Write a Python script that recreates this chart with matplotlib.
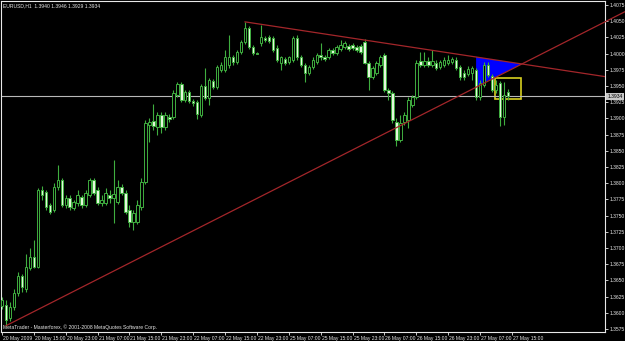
#!/usr/bin/env python3
"""EURUSD H1 candlestick chart in MetaTrader 'green on black' style."""

import matplotlib
matplotlib.use('Agg')
import matplotlib.pyplot as plt
import matplotlib.transforms as mtrans
from matplotlib import font_manager
from matplotlib.patches import Polygon, Rectangle

# --- data (prices) ---------------------------------------------------------
OPEN = [
    1.3611, 1.3612, 1.3592, 1.3609, 1.3631, 1.3656, 1.3636, 1.3669, 1.3686, 1.3671,
    1.3790, 1.3787, 1.3767, 1.3759, 1.3794, 1.3805, 1.3767, 1.3777, 1.3762, 1.3770,
    1.3779, 1.3767, 1.3782, 1.3805, 1.3790, 1.3770, 1.3770, 1.3782, 1.3777, 1.3771,
    1.3794, 1.3785, 1.3759, 1.3740, 1.3740, 1.3764, 1.3802, 1.3890, 1.3896, 1.3887,
    1.3906, 1.3887, 1.3902, 1.3902, 1.3936, 1.3953, 1.3929, 1.3941, 1.3927, 1.3926,
    1.3906, 1.3950, 1.3932, 1.3958, 1.3949, 1.3975, 1.3975, 1.3983, 1.3995, 1.3987,
    1.4003, 1.4018, 1.4040, 1.4010, 1.4001, 1.4017, 1.4024, 1.4026, 1.4024, 1.4009,
    1.3986, 1.3992, 1.3987, 1.3990, 1.4024, 1.3995, 1.3983, 1.3970, 1.3980, 1.3987,
    1.3998, 1.3995, 1.3995, 1.4006, 1.4001, 1.4007, 1.4010, 1.4012, 1.4014, 1.4010,
    1.4012, 1.4018, 1.3986, 1.3964, 1.3970, 1.3983, 1.3998, 1.3944, 1.3939, 1.3895,
    1.3867, 1.3895, 1.3898, 1.3921, 1.3933, 1.3989, 1.3983, 1.3989, 1.3983, 1.3986,
    1.3980, 1.3983, 1.3986, 1.3987, 1.3990, 1.3980, 1.3970, 1.3969, 1.3970, 1.3975,
    1.3933, 1.3952, 1.3983, 1.3966, 1.3944, 1.3955, 1.3902, 1.3940,
]
HIGH = [
    1.3625, 1.3619, 1.3617, 1.3636, 1.3663, 1.3660, 1.3690, 1.3700, 1.3713, 1.3793,
    1.3796, 1.3790, 1.3770, 1.3801, 1.3828, 1.3808, 1.3781, 1.3781, 1.3774, 1.3790,
    1.3782, 1.3790, 1.3808, 1.3808, 1.3794, 1.3782, 1.3793, 1.3790, 1.3836, 1.3805,
    1.3798, 1.3790, 1.3767, 1.3759, 1.3774, 1.3808, 1.3898, 1.3901, 1.3922, 1.3910,
    1.3910, 1.3910, 1.3907, 1.3944, 1.3956, 1.3956, 1.3944, 1.3944, 1.3930, 1.3929,
    1.3953, 1.3978, 1.3963, 1.3961, 1.3983, 1.3987, 1.4006, 1.4029, 1.3998, 1.4006,
    1.4021, 1.4049, 1.4043, 1.4014, 1.4003, 1.4044, 1.4027, 1.4029, 1.4027, 1.4014,
    1.3997, 1.3995, 1.3997, 1.4027, 1.4029, 1.3998, 1.3986, 1.3983, 1.3994, 1.4001,
    1.4017, 1.3998, 1.4009, 1.4009, 1.4014, 1.4021, 1.4020, 1.4015, 1.4017, 1.4014,
    1.4015, 1.4023, 1.3989, 1.3981, 1.3989, 1.3998, 1.4001, 1.3947, 1.3943, 1.3901,
    1.3906, 1.3910, 1.3933, 1.3936, 1.3990, 1.4003, 1.4003, 1.3994, 1.4006, 1.3990,
    1.3990, 1.3994, 1.3998, 1.3995, 1.3995, 1.3983, 1.3975, 1.3981, 1.3981, 1.3978,
    1.3960, 1.3987, 1.3987, 1.3969, 1.3960, 1.3958, 1.3956, 1.3946,
]
LOW = [
    1.3606, 1.3580, 1.3588, 1.3605, 1.3626, 1.3632, 1.3632, 1.3666, 1.3669, 1.3669,
    1.3774, 1.3759, 1.3753, 1.3756, 1.3790, 1.3764, 1.3762, 1.3759, 1.3759, 1.3765,
    1.3762, 1.3764, 1.3779, 1.3782, 1.3767, 1.3765, 1.3767, 1.3770, 1.3739, 1.3768,
    1.3781, 1.3753, 1.3733, 1.3728, 1.3737, 1.3759, 1.3799, 1.3864, 1.3882, 1.3875,
    1.3878, 1.3882, 1.3895, 1.3899, 1.3933, 1.3926, 1.3926, 1.3924, 1.3919, 1.3899,
    1.3902, 1.3929, 1.3921, 1.3946, 1.3946, 1.3972, 1.3972, 1.3978, 1.3983, 1.3984,
    1.4000, 1.4015, 1.4007, 1.3998, 1.4000, 1.4012, 1.4018, 1.4017, 1.4003, 1.3987,
    1.3975, 1.3983, 1.3984, 1.3987, 1.3990, 1.3980, 1.3956, 1.3967, 1.3977, 1.3984,
    1.3990, 1.3989, 1.3992, 1.3998, 1.3998, 1.4004, 1.4007, 1.4004, 1.4006, 1.4003,
    1.4000, 1.3984, 1.3944, 1.3961, 1.3967, 1.3980, 1.3941, 1.3929, 1.3893, 1.3858,
    1.3864, 1.3890, 1.3885, 1.3918, 1.3930, 1.3980, 1.3980, 1.3980, 1.3980, 1.3975,
    1.3977, 1.3980, 1.3983, 1.3984, 1.3975, 1.3960, 1.3960, 1.3966, 1.3960, 1.3929,
    1.3929, 1.3949, 1.3964, 1.3941, 1.3939, 1.3889, 1.3890, 1.3929,
]
CLOSE = [
    1.3619, 1.3589, 1.3609, 1.3631, 1.3656, 1.3639, 1.3671, 1.3686, 1.3671, 1.3790,
    1.3782, 1.3764, 1.3756, 1.3794, 1.3805, 1.3767, 1.3777, 1.3764, 1.3771, 1.3782,
    1.3767, 1.3785, 1.3805, 1.3785, 1.3770, 1.3774, 1.3785, 1.3777, 1.3784, 1.3794,
    1.3785, 1.3756, 1.3740, 1.3754, 1.3767, 1.3802, 1.3893, 1.3895, 1.3889, 1.3906,
    1.3887, 1.3906, 1.3899, 1.3939, 1.3953, 1.3929, 1.3941, 1.3927, 1.3924, 1.3907,
    1.3950, 1.3932, 1.3960, 1.3949, 1.3980, 1.3983, 1.3995, 1.3995, 1.3987, 1.4003,
    1.4018, 1.4040, 1.4010, 1.4001, 1.4000, 1.4026, 1.4021, 1.4020, 1.4006, 1.3990,
    1.3994, 1.3986, 1.3994, 1.4024, 1.3994, 1.3983, 1.3970, 1.3980, 1.3990, 1.3998,
    1.3994, 1.3992, 1.4006, 1.4001, 1.4010, 1.4014, 1.4017, 1.4007, 1.4009, 1.4006,
    1.4003, 1.3986, 1.3964, 1.3978, 1.3986, 1.3995, 1.3944, 1.3939, 1.3898, 1.3867,
    1.3893, 1.3906, 1.3929, 1.3933, 1.3986, 1.3983, 1.3989, 1.3983, 1.3989, 1.3978,
    1.3987, 1.3990, 1.3990, 1.3992, 1.3978, 1.3964, 1.3964, 1.3977, 1.3978, 1.3933,
    1.3955, 1.3983, 1.3967, 1.3944, 1.3952, 1.3902, 1.3936, 1.3934,
]

TIME_TICKS = [0, 8, 16, 24, 32, 40, 48, 56, 64, 72, 80, 88, 96, 104, 112, 120, 128]
TIME_LABELS = [
    '20 May 2009', '20 May 15:00', '20 May 23:00', '21 May 07:00', '21 May 15:00',
    '21 May 23:00', '22 May 07:00', '22 May 15:00', '22 May 23:00', '25 May 07:00',
    '25 May 15:00', '25 May 23:00', '26 May 07:00', '26 May 15:00', '26 May 23:00',
    '27 May 07:00', '27 May 15:00',
]
PRICE_TICKS = [
    1.3575, 1.3600, 1.3625, 1.3650, 1.3675, 1.3700, 1.3725, 1.3750, 1.3775, 1.3800,
    1.3825, 1.3850, 1.3875, 1.3900, 1.3925, 1.3950, 1.3975, 1.4000, 1.4025, 1.4050,
    1.4075,
]
BID = 1.3934

# drawn objects (bar index, price)
TOP_LINE = [(61, 1.4049), (130.5, 1.3984)]
RISE_LINE = [(1, 1.3580), (130.5, 1.3984)]
TRIANGLE = [(119, 1.3995), (119, 1.3949), (130.5, 1.3984)]
BOX = [(123.7, 1.3962), (130.3, 1.3930)]

TITLE = 'EURUSD,H1  1.3940 1.3946 1.3929 1.3934'
FOOTER = 'MetaTrader - Masterforex, \u00a9 2001-2008 MetaQuotes Software Corp.'

# --- style ------------------------------------------------------------------
installed = {f.name for f in font_manager.fontManager.ttflist}
if 'Liberation Sans Narrow' in installed:
    FONT, FS = 'Liberation Sans Narrow', 4.0
else:
    FONT, FS = 'Liberation Sans', 3.6
plt.rcParams['font.family'] = [FONT, 'DejaVu Sans']

BG = 'black'
FG = '#e8e8e8'
CANDLE = '#3fae3f'
BEAR_FILL = '#e4f7dc'
LINE_RED = '#a3262a'

W, H = 625, 341
X0, X1, Y0, Y1 = 1, 605, 1, 332  # plot frame in pixels

fig = plt.figure(figsize=(W / 100, H / 100), dpi=100, facecolor=BG)
ax = fig.add_axes([X0 / W, (H - Y1) / H, (X1 - X0) / W, (Y1 - Y0) / H])
ax.set_facecolor(BG)

px_per_bar = 3.984
ax.set_xlim((X0 - 2) / px_per_bar, (X1 - 2) / px_per_bar)
ax.set_ylim(1.35703, 1.40812)

# objects underneath candles
tri = Polygon(TRIANGLE, closed=True, facecolor='#0000ff', edgecolor='none', zorder=1)
ax.add_patch(tri)
(bx0, by0), (bx1, by1) = BOX
ax.add_patch(Rectangle((bx0, by1), bx1 - bx0, by0 - by1, fill=False,
                       edgecolor='#d8d020', linewidth=1.2, zorder=1))

ax.axhline(BID, color='#b8b8b8', linewidth=0.8, zorder=1)

# candles
body_w = 0.62
for i, (o, h, l, c) in enumerate(zip(OPEN, HIGH, LOW, CLOSE)):
    ax.vlines(i, l, h, color=CANDLE, linewidth=0.8, zorder=2)
    lo, hi = min(o, c), max(o, c)
    face = BG if c >= o else BEAR_FILL
    ax.add_patch(Rectangle((i - body_w / 2, lo), body_w, max(hi - lo, 0.00004),
                           facecolor=face, edgecolor=CANDLE, linewidth=0.7, zorder=3))


def extend(p0, p1, x_end):
    slope = (p1[1] - p0[1]) / (p1[0] - p0[0])
    return [p0[0], x_end], [p0[1], p0[1] + slope * (x_end - p0[0])]


x_right = (X1 - 2) / px_per_bar
xs, ys = extend(TOP_LINE[0], TOP_LINE[1], x_right)
ax.plot(xs, ys, color=LINE_RED, linewidth=0.9, zorder=4)
x_far = (W - 2) / px_per_bar
xs, ys = extend(RISE_LINE[0], RISE_LINE[1], x_far)
ax.plot(xs, ys, color=LINE_RED, linewidth=0.9, zorder=4, clip_on=False)

# frame and axes
for side, sp in ax.spines.items():
    sp.set_color(FG)
    sp.set_linewidth(0.8)

ax.yaxis.tick_right()
ax.set_yticks(PRICE_TICKS)
ax.set_yticklabels([f'{p:.4f}' for p in PRICE_TICKS])
ax.tick_params(axis='y', colors=FG, labelsize=FS, length=2.5, width=0.6, pad=1.0)
ax.set_xticks(TIME_TICKS)
ax.set_xticklabels(TIME_LABELS, ha='left')
ax.tick_params(axis='x', colors=FG, labelsize=FS, length=2.5, width=0.6, pad=0.3)
shift = mtrans.ScaledTranslation(1.0 / 100, 0, fig.dpi_scale_trans)
for lab in ax.get_xticklabels():
    lab.set_transform(lab.get_transform() + shift)

# bid price label
ax.text(1.004, BID, f'{BID:.4f}', transform=ax.get_yaxis_transform(),
        fontsize=FS, color='black', va='center', ha='left',
        bbox=dict(boxstyle='square,pad=0.2', facecolor='#c8c8c8', edgecolor='none'),
        zorder=6, clip_on=False)

ax.text(0.004, 0.994, TITLE, transform=ax.transAxes, fontsize=FS, color=FG,
        ha='left', va='top')
ax.text(0.004, 0.006, FOOTER, transform=ax.transAxes, fontsize=FS, color=FG,
        ha='left', va='bottom')

fig.savefig('out.png', dpi=100, facecolor=BG)
